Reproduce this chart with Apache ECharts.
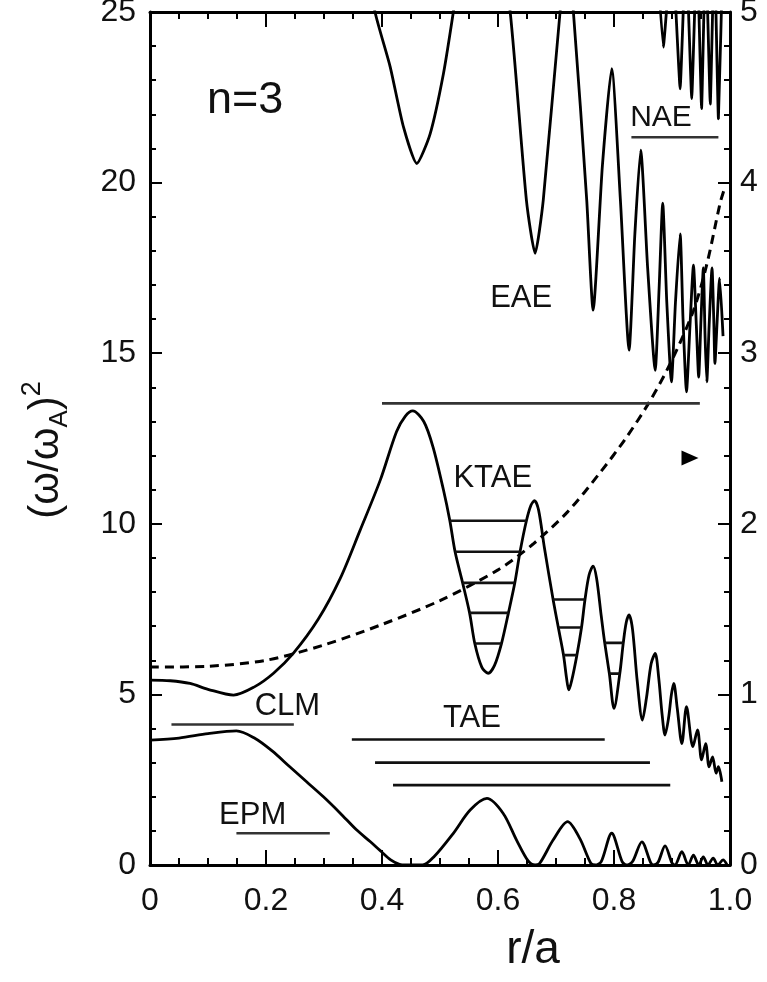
<!DOCTYPE html>
<html>
<head>
<meta charset="utf-8">
<title>n=3 continuum</title>
<script src="https://cdn.jsdelivr.net/npm/echarts@6.0.0/dist/echarts.min.js"></script>
<style>
  html, body { margin: 0; padding: 0; background: #fff; }
  #chart { width: 767px; height: 982px; }
</style>
</head>
<body>
<div id="chart"></div>
<script>
  // continuum branches, points are [r/a, (w/wA)^2]
  var lowerTAE = [
    [0, 3.66], [0.05, 3.72], [0.1, 3.85], [0.149, 3.93], [0.18, 3.72], [0.21, 3.35],
    [0.241, 2.88], [0.27, 2.44], [0.299, 2.0], [0.328, 1.52], [0.356, 1.03], [0.38, 0.68],
    [0.397, 0.42], [0.415, 0.15], [0.43, 0.02], [0.44, 0], [0.47, 0],
    [0.49, 0.25], [0.523, 0.93], [0.552, 1.61], [0.581, 1.95], [0.609, 1.51], [0.632, 0.73], [0.652, 0.12], [0.664, 0],
    [0.672, 0.05], [0.695, 0.73], [0.720, 1.27], [0.741, 0.78], [0.760, 0.05],
    [0.768, 0], [0.778, 0.1], [0.796, 0.93], [0.814, 0.1], [0.822, 0],
    [0.832, 0.1], [0.848, 0.68], [0.863, 0.08], [0.868, 0],
    [0.876, 0.08], [0.888, 0.56], [0.900, 0.06], [0.905, 0],
    [0.917, 0.39], [0.928, 0], [0.937, 0.29], [0.946, 0], [0.954, 0.24], [0.962, 0],
    [0.971, 0.2], [0.979, 0], [0.988, 0.15], [0.995, 0]
  ];
  var upperTAE = [
    [0, 5.42], [0.035, 5.4], [0.069, 5.32], [0.1, 5.15], [0.144, 4.98], [0.18, 5.22],
    [0.213, 5.62], [0.247, 6.2], [0.29, 7.2], [0.328, 8.4], [0.362, 9.8], [0.397, 11.28],
    [0.425, 12.7], [0.44, 13.15], [0.453, 13.31], [0.472, 13.0], [0.488, 12.25], [0.506, 10.99],
    [0.517, 10.09], [0.526, 9.18], [0.539, 8.27], [0.551, 7.39], [0.560, 6.49], [0.572, 5.8],
    [0.583, 5.62], [0.594, 5.85], [0.606, 6.49], [0.618, 7.39], [0.629, 8.27], [0.638, 9.18],
    [0.649, 10.09], [0.657, 10.55], [0.663, 10.68], [0.670, 10.4], [0.680, 9.3],
    [0.695, 7.78], [0.704, 6.96], [0.713, 6.15], [0.718, 5.5], [0.722, 5.13], [0.727, 5.4],
    [0.736, 6.15], [0.744, 6.96], [0.750, 7.78], [0.757, 8.5], [0.764, 8.76], [0.770, 8.4],
    [0.778, 7.3], [0.784, 6.51], [0.792, 5.61], [0.800, 4.59], [0.810, 5.61], [0.816, 6.51],
    [0.821, 7.1], [0.826, 7.33], [0.832, 6.9], [0.840, 5.4], [0.849, 4.25], [0.856, 4.9],
    [0.864, 5.9], [0.871, 6.2], [0.877, 5.5], [0.883, 4.4], [0.888, 3.81], [0.894, 4.3],
    [0.899, 5.0], [0.903, 5.32], [0.909, 4.6], [0.917, 3.56], [0.925, 4.64], [0.936, 3.47],
    [0.944, 3.96], [0.951, 3.08], [0.958, 3.56], [0.964, 2.88], [0.970, 3.17], [0.976, 2.69],
    [0.980, 2.88], [0.986, 2.44]
  ];
  var upperEAE = [
    [0.37, 27], [0.388, 25], [0.414, 23.4], [0.437, 21.63], [0.460, 20.56], [0.483, 21.43],
    [0.506, 23.2], [0.523, 25], [0.54, 27], [0.60, 27], [0.621, 25], [0.649, 19.48],
    [0.664, 17.93], [0.678, 19.48], [0.707, 25], [0.718, 26.5], [0.730, 25], [0.753, 19.48],
    [0.764, 16.26], [0.78, 20.5], [0.796, 23.34], [0.811, 19.5], [0.826, 15.09], [0.836, 18.5],
    [0.846, 20.95], [0.858, 17.5], [0.871, 14.5], [0.878, 17], [0.884, 19.4], [0.891, 16.5],
    [0.899, 14.16], [0.906, 16.5], [0.914, 18.5], [0.919, 16], [0.925, 13.87], [0.931, 15.8],
    [0.937, 17.58], [0.942, 15.8], [0.946, 14.3], [0.950, 16], [0.954, 17.5], [0.957, 15.5],
    [0.960, 14.16], [0.964, 15.8], [0.969, 17.5], [0.972, 16], [0.974, 14.7], [0.978, 16],
    [0.982, 17.2], [0.988, 15.5]
  ];
  var upperNAE = [
    [0.872, 27], [0.885, 23.97], [0.900, 27], [0.914, 22.75], [0.924, 27], [0.934, 22.46],
    [0.943, 27], [0.951, 22.17], [0.958, 27], [0.966, 22.3], [0.973, 27], [0.980, 21.87], [0.988, 27]
  ];
  // safety factor q, right axis
  var qProfile = [
    [0, 1.16], [0.1, 1.165], [0.2, 1.2], [0.3, 1.29], [0.4, 1.41], [0.5, 1.55],
    [0.6, 1.73], [0.66, 1.88], [0.72, 2.07], [0.776, 2.3], [0.82, 2.5], [0.862, 2.72],
    [0.9, 2.96], [0.937, 3.25], [0.96, 3.52], [0.983, 3.88], [0.99, 3.96]
  ];
  // mode frequency levels: [r start, r end, (w/wA)^2]
  var taeLevels = [[0.348, 0.784, 3.68], [0.388, 0.862, 3.0], [0.419, 0.897, 2.34]];
  var ktaeLevels = [
    [0.517, 0.649, 10.09], [0.526, 0.638, 9.18], [0.539, 0.629, 8.27], [0.551, 0.618, 7.39], [0.560, 0.606, 6.49],
    [0.695, 0.750, 7.78], [0.704, 0.744, 6.96], [0.713, 0.736, 6.15],
    [0.784, 0.816, 6.51], [0.792, 0.810, 5.61]
  ];
  var otherLevels = [[0.037, 0.248, 4.12], [0.149, 0.310, 0.93], [0.400, 0.948, 13.53], [0.830, 0.980, 21.33]];
  // text annotations: [text, r/a, (w/wA)^2, font size]
  var notes = [
    ['n=3', 0.164, 22.4, 45], ['NAE', 0.881, 21.9, 30], ['EAE', 0.64, 16.6, 31],
    ['KTAE', 0.591, 11.34, 31], ['CLM', 0.237, 4.66, 31], ['TAE', 0.555, 4.3, 31], ['EPM', 0.177, 1.44, 31]
  ];
  var arrowMark = [[0.931, 11.93]];

  var FONT = '"Liberation Sans", Arial, sans-serif';

  function levelSeries(list, color) {
    return list.map(function (l) {
      return {
        type: 'line', xAxisIndex: 0, yAxisIndex: 0, symbol: 'none', silent: true,
        data: [[l[0], l[2]], [l[1], l[2]]],
        lineStyle: { color: color, width: 2.6 }
      };
    });
  }
  function curve(data, yIdx, extra) {
    var s = {
      type: 'line', xAxisIndex: 0, yAxisIndex: yIdx, symbol: 'none', silent: true,
      smooth: 0.3, data: data, clip: true,
      lineStyle: { color: '#000', width: 2.8 }
    };
    for (var k in extra) s[k] = extra[k];
    return s;
  }

  var chart = echarts.init(document.getElementById('chart'), null, { renderer: 'canvas' });

  var axisCommon = {
    type: 'value', min: 0, max: 1, interval: 0.2,
    axisLine: { show: true, onZero: false, lineStyle: { color: '#000', width: 3 } },
    axisTick: { show: true, inside: true, length: 15, lineStyle: { color: '#000', width: 2 } },
    minorTick: { show: true, splitNumber: 4, length: 7, lineStyle: { color: '#000', width: 2 } },
    splitLine: { show: false }
  };

  var series = [
    curve(lowerTAE, 0),
    curve(upperTAE, 0),
    curve(upperEAE, 0, { smooth: 0.2 }),
    curve(upperNAE, 0, { smooth: 0.1 }),
    curve(qProfile, 1, { lineStyle: { color: '#000', width: 3, type: [9, 6] } })
  ];
  series = series.concat(levelSeries(taeLevels, '#111'), levelSeries(ktaeLevels, '#111'), levelSeries(otherLevels, '#333'));
  series.push({
    type: 'scatter', xAxisIndex: 0, yAxisIndex: 0, silent: true,
    symbol: 'triangle', symbolRotate: -90, symbolSize: [15, 17],
    itemStyle: { color: '#000', opacity: 1 }, data: arrowMark
  });
  series.push({
    type: 'scatter', xAxisIndex: 0, yAxisIndex: 0, silent: true, symbolSize: 0,
    itemStyle: { opacity: 1 },
    data: notes.map(function (n) {
      return {
        value: [n[1], n[2]], name: n[0],
        label: { show: true, position: 'inside', formatter: '{b}', color: '#111', opacity: 1, fontFamily: FONT, fontSize: n[3] }
      };
    })
  });

  chart.setOption({
    animation: false,
    backgroundColor: '#fff',
    grid: { left: 150, right: 37, top: 12, bottom: 117, outerBoundsMode: 'none' },
    xAxis: [
      Object.assign({}, axisCommon, {
        position: 'bottom',
        axisLabel: {
          show: true, margin: 20, color: '#111', fontFamily: FONT, fontSize: 32,
          formatter: function (v) { return v === 0 ? '0' : v.toFixed(1); }
        }
      }),
      Object.assign({}, axisCommon, { position: 'top', axisLabel: { show: false } })
    ],
    yAxis: [
      Object.assign({}, axisCommon, {
        position: 'left', min: 0, max: 25, interval: 5,
        axisTick: { show: true, inside: true, length: 12, lineStyle: { color: '#000', width: 2 } },
        minorTick: { show: true, splitNumber: 5, length: 6, lineStyle: { color: '#000', width: 2 } },
        axisLabel: { show: true, margin: 14, color: '#111', fontFamily: FONT, fontSize: 32 }
      }),
      Object.assign({}, axisCommon, {
        position: 'right', min: 0, max: 5, interval: 1,
        axisTick: { show: true, inside: true, length: 12, lineStyle: { color: '#000', width: 2 } },
        minorTick: { show: true, splitNumber: 5, length: 6, lineStyle: { color: '#000', width: 2 } },
        axisLabel: { show: true, margin: 10, color: '#111', fontFamily: FONT, fontSize: 32 }
      })
    ],
    graphic: [
      {
        type: 'text', x: 533, y: 950,
        style: { text: 'r/a', fill: '#111', font: '46px ' + FONT, align: 'center', verticalAlign: 'middle' }
      },
      {
        type: 'text', x: 46, y: 450, rotation: Math.PI / 2,
        style: {
          text: '(ω/ω{a|A}){s|2}', fill: '#111', font: '42px ' + FONT,
          align: 'center', verticalAlign: 'middle', lineHeight: 54,
          rich: {
            a: { fontSize: 26, fontFamily: FONT, fill: '#111', verticalAlign: 'bottom', lineHeight: 26 },
            s: { fontSize: 27, fontFamily: FONT, fill: '#111', verticalAlign: 'top', lineHeight: 27 }
          }
        }
      }
    ],
    series: series
  });
</script>
</body>
</html>
